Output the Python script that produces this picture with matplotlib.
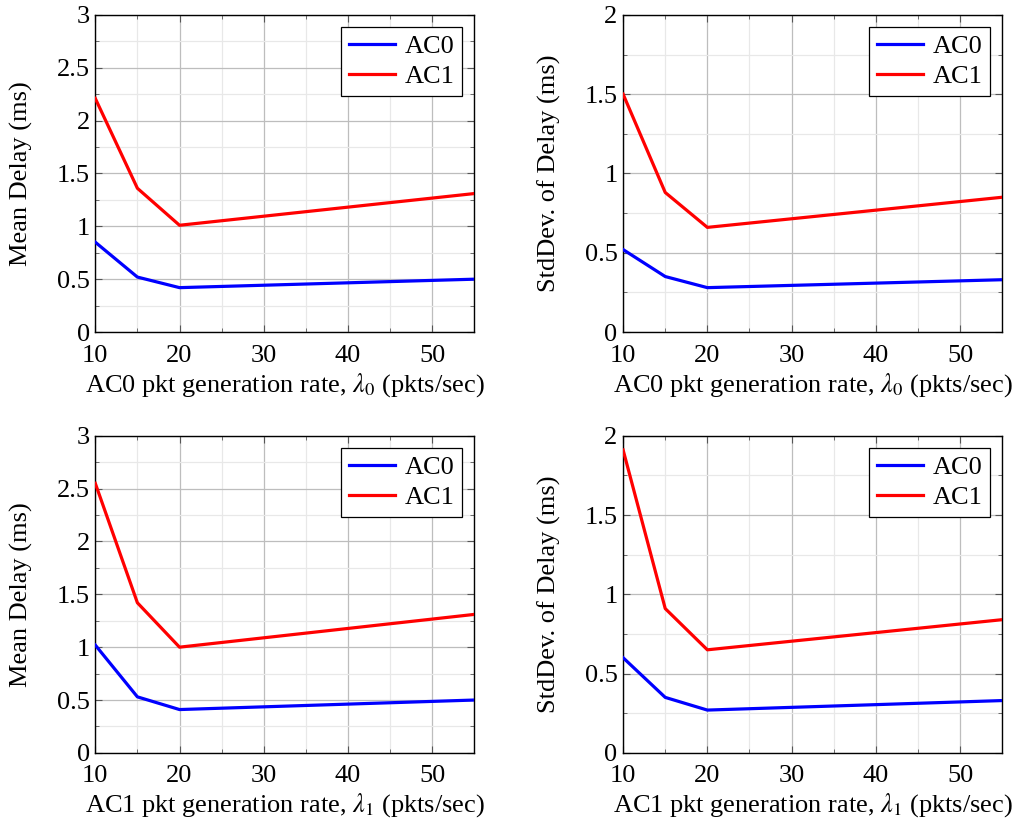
import matplotlib.pyplot as plt
from matplotlib.ticker import MultipleLocator, FuncFormatter

plt.rcParams['font.family'] = ['Liberation Serif', 'DejaVu Serif']
plt.rcParams['mathtext.fontset'] = 'stix'

# packet generation rates (pkts/sec)
rates = [10, 15, 20, 55]

# top row: varying lambda_0
mean_ac0_l0 = [0.85, 0.52, 0.42, 0.50]
mean_ac1_l0 = [2.21, 1.36, 1.01, 1.31]
std_ac0_l0 = [0.52, 0.35, 0.28, 0.33]
std_ac1_l0 = [1.50, 0.88, 0.66, 0.85]

# bottom row: varying lambda_1
mean_ac0_l1 = [1.02, 0.53, 0.41, 0.50]
mean_ac1_l1 = [2.55, 1.42, 1.00, 1.31]
std_ac0_l1 = [0.60, 0.35, 0.27, 0.33]
std_ac1_l1 = [1.91, 0.91, 0.65, 0.84]

series_names = ['AC0', 'AC1']
series_colors = ['#0000ff', '#ff0000']

xlabels = ['AC0 pkt generation rate, $\\lambda_0$ (pkts/sec)',
           'AC1 pkt generation rate, $\\lambda_1$ (pkts/sec)']
ylabels = ['Mean Delay (ms)', 'StdDev. of Delay (ms)']

panels = [
    (0, 0, mean_ac0_l0, mean_ac1_l0, 3),
    (0, 1, std_ac0_l0, std_ac1_l0, 2),
    (1, 0, mean_ac0_l1, mean_ac1_l1, 3),
    (1, 1, std_ac0_l1, std_ac1_l1, 2),
]

fig = plt.figure(figsize=(10.19, 8.26), dpi=100)
lefts = [0.0935, 0.6115]
bottoms = [0.598, 0.0885]
w, h = 0.372, 0.384
fs = 19


def fmt(v, pos):
    return ('%g' % v)


for row, col, ac0, ac1, ymax in panels:
    ax = fig.add_axes([lefts[col], bottoms[row], w, h])
    for vals, name, c in zip([ac0, ac1], series_names, series_colors):
        ax.plot(rates, vals, color=c, lw=2.3, label=name, zorder=3)
    ax.set_xlim(10, 55)
    ax.set_ylim(0, ymax)
    ax.xaxis.set_major_locator(MultipleLocator(10))
    ax.xaxis.set_minor_locator(MultipleLocator(5))
    ax.yaxis.set_major_locator(MultipleLocator(0.5))
    ax.yaxis.set_minor_locator(MultipleLocator(0.25))
    ax.yaxis.set_major_formatter(FuncFormatter(fmt))
    ax.grid(which='major', color='#bdbdbd', lw=0.9)
    ax.grid(which='minor', color='#e8e8e8', lw=0.9)
    ax.set_axisbelow(True)
    ax.tick_params(which='both', direction='in', top=True, right=True,
                   labelsize=fs, color='#555555')
    ax.tick_params(which='major', length=5, width=0.8, pad=4)
    ax.tick_params(axis='x', which='major', pad=9)
    ax.tick_params(which='minor', length=3, width=0.6)
    for s in ax.spines.values():
        s.set_linewidth(1.0)
    ax.set_xlabel(xlabels[row], fontsize=fs, labelpad=3)
    ax.set_ylabel(ylabels[col], fontsize=fs, labelpad=17)
    leg = ax.legend(loc='upper right', fontsize=fs, fancybox=False,
                    framealpha=1, edgecolor='black', handlelength=1.75,
                    handletextpad=0.35, borderaxespad=0.45, borderpad=0.3,
                    labelspacing=0.25)
    leg.get_frame().set_linewidth(0.9)

fig.savefig('out.png', dpi=100)
